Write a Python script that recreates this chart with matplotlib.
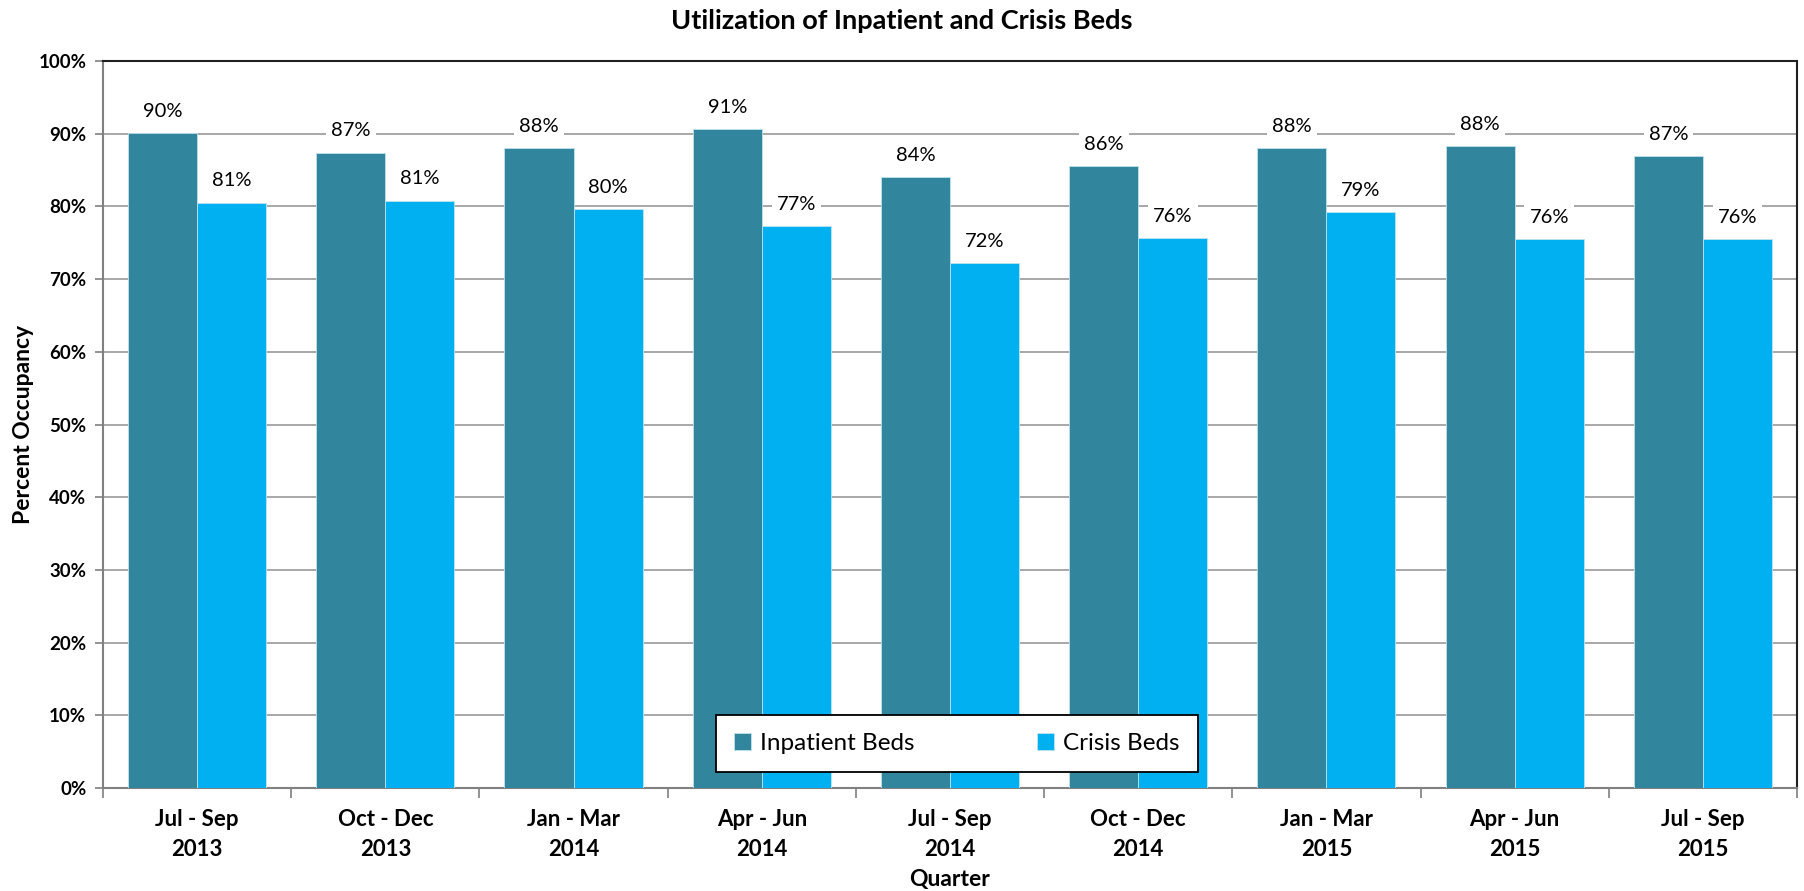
import numpy as np
import matplotlib.pyplot as plt
from matplotlib.ticker import PercentFormatter

plt.rcParams['font.family'] = ['Lato', 'DejaVu Sans']

quarters = ['Jul - Sep\n2013', 'Oct - Dec\n2013', 'Jan - Mar\n2014', 'Apr - Jun\n2014',
            'Jul - Sep\n2014', 'Oct - Dec\n2014', 'Jan - Mar\n2015', 'Apr - Jun\n2015',
            'Jul - Sep\n2015']
inpatient = [90.1, 87.4, 88.0, 90.6, 84.0, 85.5, 88.0, 88.3, 86.9]
crisis = [80.5, 80.8, 79.6, 77.3, 72.2, 75.6, 79.2, 75.5, 75.5]

teal = '#31859C'
blue = '#00B0F0'

fig = plt.figure(figsize=(18.04, 8.91), dpi=100)
ax = fig.add_axes([0.0571, 0.1156, 0.939, 0.8159])

x = np.arange(len(quarters))
w = 0.367
b1 = ax.bar(x - w / 2, inpatient, w, color=teal, edgecolor='#BFE3EE', linewidth=0.6,
            label='Inpatient Beds', zorder=3)
b2 = ax.bar(x + w / 2, crisis, w, color=blue, edgecolor='#BFE3EE', linewidth=0.6,
            label='Crisis Beds', zorder=3)

# value labels above the bars, white box cuts the gridlines like excel
for bars in (b1, b2):
    for r in bars:
        v = r.get_height()
        ax.annotate(f'{int(v + 0.5)}%', (r.get_x() + r.get_width() / 2, v),
                    xytext=(0, 22), textcoords='offset pixels', ha='center', va='center',
                    fontsize=14.5, color='black', zorder=4,
                    bbox=dict(boxstyle='square,pad=0.25', fc='white', ec='none'))

ax.set_xlim(-0.5, len(quarters) - 0.5)
ax.set_ylim(0, 100)
ax.set_yticks(np.arange(0, 101, 10))
ax.yaxis.set_major_formatter(PercentFormatter(decimals=0))
ax.grid(axis='y', color='#9A9A9A', linewidth=1.2, zorder=0)
ax.set_axisbelow(True)

ax.set_xticks(x)
ax.set_xticklabels(quarters, fontsize=16, fontweight='bold', linespacing=1.55)
ax.set_xticks(np.arange(-0.5, len(quarters)), minor=True)
ax.tick_params(axis='x', which='major', length=0, pad=15)
ax.tick_params(axis='x', which='minor', length=7, color='#808080', width=1.2)
ax.tick_params(axis='y', length=6, color='#808080', width=1.2, labelsize=13.5, pad=6)
for lab in ax.get_yticklabels():
    lab.set_fontweight('bold')

for s in ('left', 'bottom'):
    ax.spines[s].set_color('#808080')
    ax.spines[s].set_linewidth(1.5)
for s in ('top', 'right'):
    ax.spines[s].set_color('#202020')
    ax.spines[s].set_linewidth(1.5)

ax.set_xlabel('Quarter', fontsize=16.5, fontweight='bold', labelpad=6)
ax.set_ylabel('Percent Occupancy', fontsize=16.5, fontweight='bold', labelpad=3)
fig.suptitle('Utilization of Inpatient and Crisis Beds', fontsize=19.5, fontweight='bold',
             x=0.5, y=0.99)

leg = ax.legend(loc='center', bbox_to_anchor=(0.504, 0.061), ncol=2, fontsize=17.5,
                frameon=True, fancybox=False, edgecolor='black', framealpha=1,
                handlelength=0.7, handleheight=0.7, handletextpad=0.4,
                columnspacing=5.0, borderpad=0.75, borderaxespad=0)
leg._legend_box.align = 'center'
leg.get_frame().set_linewidth(1.3)
leg.set_zorder(6)

plt.savefig('out.png', dpi=100)
